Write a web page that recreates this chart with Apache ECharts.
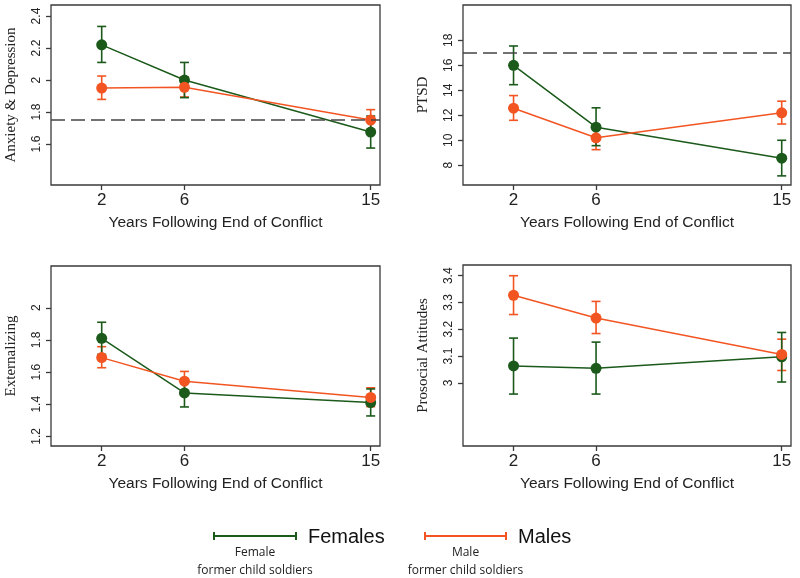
<!DOCTYPE html>
<html>
<head>
<meta charset="utf-8">
<script src="https://cdn.jsdelivr.net/npm/echarts@6/dist/echarts.min.js"></script>
<style>
html,body{margin:0;padding:0;background:#fff;}
#main{width:800px;height:578px;}
</style>
</head>
<body>
<div id="main"></div>
<script>
// data
var years = [2, 6, 15];
var xTicks = [2, 6, 15];

var anxTicks = [1.6, 1.8, 2, 2.2, 2.4];
var anxCutoff = 1.75;
var anxFemale   = [2.22, 2.00, 1.675];
var anxFemaleLo = [2.11, 1.89, 1.575];
var anxFemaleHi = [2.335, 2.11, 1.775];
var anxMale     = [1.95, 1.955, 1.75];
var anxMaleLo   = [1.879, 1.894, 1.69];
var anxMaleHi   = [2.025, 2.02, 1.815];

var ptsdTicks = [8, 10, 12, 14, 16, 18];
var ptsdCutoff = 17;
var ptsdFemale   = [16.0, 11.05, 8.57];
var ptsdFemaleLo = [14.45, 9.57, 7.15];
var ptsdFemaleHi = [17.55, 12.6, 10.0];
var ptsdMale     = [12.57, 10.2, 12.2];
var ptsdMaleLo   = [11.6, 9.25, 11.3];
var ptsdMaleHi   = [13.58, 11.15, 13.13];

var extTicks = [1.2, 1.4, 1.6, 1.8, 2];
var extFemale   = [1.81, 1.47, 1.41];
var extFemaleLo = [1.71, 1.383, 1.327];
var extFemaleHi = [1.91, 1.557, 1.495];
var extMale     = [1.69, 1.543, 1.442];
var extMaleLo   = [1.627, 1.482, 1.385];
var extMaleHi   = [1.758, 1.604, 1.502];

var proTicks = [3, 3.1, 3.2, 3.3, 3.4];
var proFemale   = [3.063, 3.054, 3.097];
var proFemaleLo = [2.958, 2.958, 3.003];
var proFemaleHi = [3.167, 3.152, 3.188];
var proMale     = [3.327, 3.242, 3.106];
var proMaleLo   = [3.255, 3.184, 3.046];
var proMaleHi   = [3.40, 3.304, 3.163];

var GREEN = '#1b5a1b';
var ORANGE = '#f25522';
var INK = '#3a3a3a';

var chart = echarts.init(document.getElementById('main'));

var panels = [
	{ left: 51, top: 5, width: 329, height: 180, ymin: 1.344, ymax: 2.469, ticks: anxTicks, name: 'Anxiety & Depression',
	  f: anxFemale, fLo: anxFemaleLo, fHi: anxFemaleHi, m: anxMale, mLo: anxMaleLo, mHi: anxMaleHi, cutoff: anxCutoff },
	{ left: 463, top: 5, width: 328, height: 180, ymin: 6.42, ymax: 20.83, ticks: ptsdTicks, name: 'PTSD',
	  f: ptsdFemale, fLo: ptsdFemaleLo, fHi: ptsdFemaleHi, m: ptsdMale, mLo: ptsdMaleLo, mHi: ptsdMaleHi, cutoff: ptsdCutoff },
	{ left: 51, top: 266, width: 329, height: 180, ymin: 1.14, ymax: 2.26, ticks: extTicks, name: 'Externalizing',
	  f: extFemale, fLo: extFemaleLo, fHi: extFemaleHi, m: extMale, mLo: extMaleLo, mHi: extMaleHi },
	{ left: 463, top: 265, width: 328, height: 181, ymin: 2.764, ymax: 3.44, ticks: proTicks, name: 'Prosocial Attitudes',
	  f: proFemale, fLo: proFemaleLo, fHi: proFemaleHi, m: proMale, mLo: proMaleLo, mHi: proMaleHi }
];

function errData(lo, hi){
	var out = [];
	for(var i=0;i<years.length;i++){
		out.push([years[i], lo[i], hi[i]]);
	}
	return out;
}
function lineData(v){
	var out = [];
	for(var i=0;i<years.length;i++){
		out.push([years[i], v[i]]);
	}
	return out;
}
function errSeries(idx, data, color){
	return {
		type: 'custom',
		xAxisIndex: idx, yAxisIndex: idx,
		z: 1,
		silent: true,
		data: data,
		renderItem: function(params, api){
			var top = api.coord([api.value(0), api.value(2)]);
			var bot = api.coord([api.value(0), api.value(1)]);
			var w = 4.5;
			var st = { stroke: color, lineWidth: 1.6 };
			return {
				type: 'group',
				children: [
					{ type: 'line', shape: { x1: top[0], y1: top[1], x2: bot[0], y2: bot[1] }, style: st },
					{ type: 'line', shape: { x1: top[0]-w, y1: top[1], x2: top[0]+w, y2: top[1] }, style: st },
					{ type: 'line', shape: { x1: bot[0]-w, y1: bot[1], x2: bot[0]+w, y2: bot[1] }, style: st }
				]
			};
		}
	};
}

var grids = [], xAxes = [], yAxes = [], series = [];
panels.forEach(function(p, idx){
	grids.push({ left: p.left, top: p.top, width: p.width, height: p.height, show: true,
		borderColor: INK, borderWidth: 1.3, backgroundColor: 'transparent' });
	xAxes.push({
		type: 'value', gridIndex: idx, min: -0.45, max: 15.45,
		name: 'Years Following End of Conflict', nameLocation: 'middle', nameGap: 30,
		nameTextStyle: { fontFamily: 'Liberation Sans', fontSize: 15.5, color: '#222' },
		axisLine: { show: false, onZero: false },
		axisTick: { show: true, length: 5, customValues: xTicks, lineStyle: { color: INK, width: 1.3 } },
		axisLabel: { customValues: xTicks, margin: 7, fontFamily: 'Liberation Sans', fontSize: 17, color: '#222' },
		splitLine: { show: false }
	});
	yAxes.push({
		type: 'value', gridIndex: idx, min: p.ymin, max: p.ymax,
		name: p.name, nameLocation: 'middle', nameGap: 32,
		nameTextStyle: { fontFamily: 'Liberation Serif', fontSize: 15, color: '#222' },
		axisLine: { show: false, onZero: false },
		axisTick: { show: true, length: 5, customValues: p.ticks, lineStyle: { color: INK, width: 1.3 } },
		axisLabel: { customValues: p.ticks, rotate: 90, margin: 8, fontFamily: 'Liberation Sans', fontSize: 12, color: '#222' },
		splitLine: { show: false }
	});
	series.push(errSeries(idx, errData(p.mLo, p.mHi), ORANGE));
	series.push(errSeries(idx, errData(p.fLo, p.fHi), GREEN));
	var fem = {
		name: 'Females', type: 'line', xAxisIndex: idx, yAxisIndex: idx, z: 2,
		data: lineData(p.f), symbol: 'circle', symbolSize: 11,
		itemStyle: { color: GREEN }, lineStyle: { color: GREEN, width: 1.5 }
	};
	if(p.cutoff != null){
		fem.markLine = {
			silent: true, symbol: 'none', label: { show: false },
			lineStyle: { color: '#444', type: [14, 6], width: 1.5 },
			data: [{ yAxis: p.cutoff }]
		};
	}
	series.push(fem);
	series.push({
		name: 'Males', type: 'line', xAxisIndex: idx, yAxisIndex: idx, z: 3,
		data: lineData(p.m), symbol: 'circle', symbolSize: 11,
		itemStyle: { color: ORANGE }, lineStyle: { color: ORANGE, width: 1.5 }
	});
});

// legend drawn by hand: error-bar icon, big label, subtitle
function legendItem(x1, x2, y, color, label, sub){
	var cx = (x1 + x2) / 2;
	return [
		{ type: 'line', shape: { x1: x1, y1: y, x2: x2, y2: y }, style: { stroke: color, lineWidth: 2 } },
		{ type: 'line', shape: { x1: x1, y1: y-4, x2: x1, y2: y+4 }, style: { stroke: color, lineWidth: 2 } },
		{ type: 'line', shape: { x1: x2, y1: y-4, x2: x2, y2: y+4 }, style: { stroke: color, lineWidth: 2 } },
		{ type: 'text', x: x2 + 12, y: y + 1, style: { text: label, fontFamily: 'Liberation Sans', fontSize: 20, fill: '#111', verticalAlign: 'middle' } },
		{ type: 'text', x: cx, y: y + 17, style: { text: sub[0], fontFamily: 'Open Sans', fontSize: 12, fill: '#222', align: 'center', verticalAlign: 'middle' } },
		{ type: 'text', x: cx, y: y + 35, style: { text: sub[1], fontFamily: 'Open Sans', fontSize: 12, fill: '#222', align: 'center', verticalAlign: 'middle' } }
	];
}
var legendEls = legendItem(214, 296, 536, GREEN, 'Females', ['Female', 'former child soldiers'])
	.concat(legendItem(425, 506, 536, ORANGE, 'Males', ['Male', 'former child soldiers']));

chart.setOption({
	animation: false,
	backgroundColor: '#fff',
	grid: grids,
	xAxis: xAxes,
	yAxis: yAxes,
	series: series,
	graphic: legendEls
});
window.addEventListener('resize', function(){ chart.resize(); });
</script>
</body>
</html>
